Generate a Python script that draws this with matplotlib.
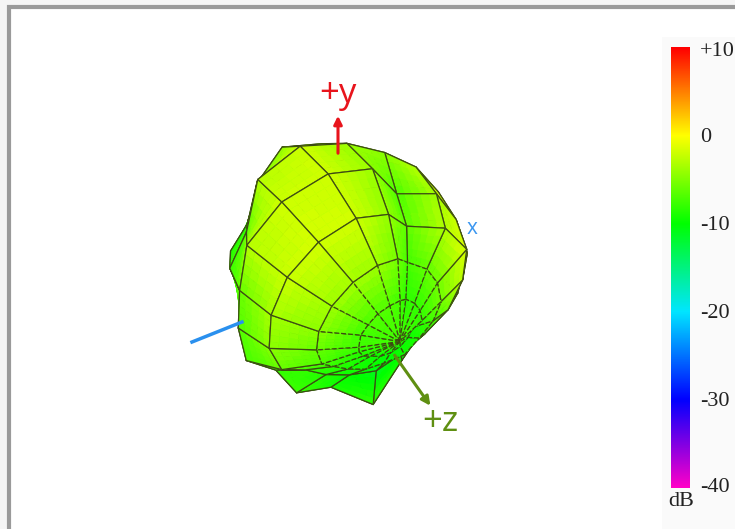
import numpy as np
import matplotlib
matplotlib.use("Agg")
from matplotlib import pyplot as plt
from matplotlib.collections import PolyCollection
from matplotlib.colors import LinearSegmentedColormap, Normalize

# gain in dB, one list per theta ring, phi = 0, 20, ... 340 deg
theta_deg = [0, 20, 40, 60, 80, 100, 120, 140, 160, 180]
gain_t000 = [-7.5] * 18
gain_t020 = [-9, -9, -9, -9, -8, -7.5, -7.5, -7.5, -8, -8, -9, -9.5, -10, -10, -10, -10, -10, -10]
gain_t040 = [-9, -9, -9, -9.5, -7.4, -6, -5.5, -5.5, -6, -7.5, -8.5, -10, -10.5, -10.5, -10.5, -10, -10, -9.5]
gain_t060 = [-7.4, -6.3, -6.8, -9, -6.5, -4.5, -4, -4, -5, -6, -7.5, -10, -10.5, -10.5, -10, -10, -9.5, -8.4]
gain_t080 = [-6, -6.5, -6.5, -8.5, -5, -3.5, -3, -3.5, -6, -6.8, -7, -9, -7.7, -8.4, -4.7, -7.4, -8.1, -6.3]
gain_t100 = [-5, -5.7, -6, -6, -5, -3.5, -4, -7.5, -7.7, -10, -9, -10, -10, -8, -7, -8, -7.5, -6.3]
gain_t120 = [-6.5, -6, -6.5, -7, -6, -5, -6.8, -9, -8.7, -10.5, -10, -9, -9, -9, -9, -8.5, -8, -7]
gain_t140 = [-8, -8, -8, -8, -7.5, -7.5, -8, -9, -9.5, -10.5, -10, -9, -9, -9, -9, -9, -8.5, -8]
gain_t160 = [-9, -9, -9, -9, -9, -8.5, -8.5, -9.5, -10, -10.5, -10, -9.5, -9.5, -9.5, -9.5, -9.5, -9, -9]
gain_t180 = [-9.5] * 18

# colour lift per phi and per theta, gain shown on the faces against the radius
phi_tint = [4.5, 4.5, 3, 1.5, 1, 1.5, 1, 0.5, 0, 0, 0, 1, 0, -1, -3.5, -2, -1, 1.5]
theta_tint = [0, 0.5, 1.5, 1.5, 0, 0, 0, 0, 0, 0]

cbar_labels = ["+10", "0", "-10", "-20", "-30", "-40"]
cbar_label_y = [51, 137, 226, 313, 401, 488]

gains = np.array([gain_t000, gain_t020, gain_t040, gain_t060, gain_t080,
                  gain_t100, gain_t120, gain_t140, gain_t160, gain_t180], dtype=float)
gains = np.hstack([gains, gains[:, :1]])
theta = np.radians(theta_deg)
phi = np.radians(np.arange(0, 361, 20))

cmap = LinearSegmentedColormap.from_list("db", [
    (0.0, "#ff00c8"), (0.2, "#0000ff"), (0.4, "#00e6ff"),
    (0.6, "#00ff00"), (0.8, "#ffff00"), (1.0, "#ff0000")])
norm = Normalize(-40, 10)

# view
az = np.radians(30)
el = np.radians(35)
right = np.array([np.cos(az), 0, np.sin(az)])
up = np.array([np.sin(el) * np.sin(az), np.cos(el), -np.sin(el) * np.cos(az)])
toward = np.cross(right, up)
ox, oy = 338, 280

tt, pp = np.meshgrid(theta, phi, indexing="ij")
rad = 9.3 * (gains + 20.8)
xyz = np.stack([rad * np.sin(tt) * np.cos(pp), rad * np.sin(tt) * np.sin(pp), rad * np.cos(tt)], axis=-1)
sx = ox + xyz @ right
sy = oy - xyz @ up
depth = xyz @ toward

tint = np.array(phi_tint + phi_tint[:1]) * np.sin(tt) ** 2 + np.array(theta_tint)[:, None]
shade = gains + tint

fig = plt.figure(figsize=(7.35, 5.29), dpi=100, facecolor="#f5f5f5")
ax = fig.add_axes([0, 0, 1, 1])
ax.set_xlim(0, 735)
ax.set_ylim(529, 0)
ax.axis("off")

# frame and colorbar panel
ax.add_patch(plt.Rectangle((9.5, 7), 740, 540, fc="white", ec="#9a9a9a", lw=3))
ax.add_patch(plt.Rectangle((662, 37), 80, 500, fc="#fafafa", ec="none"))

# faces back to front, each one shaded from its corner gains
polys, faces, edges, widths, styles, keys = [], [], [], [], [], []
nsub = 5
uu = np.linspace(0, 1, nsub + 1)


def lerp(a, i, j):
    return ((1 - uu)[:, None] * ((1 - uu) * a[i, j] + uu * a[i, j + 1])
            + uu[:, None] * ((1 - uu) * a[i + 1, j] + uu * a[i + 1, j + 1]))


for i in range(gains.shape[0] - 1):
    for j in range(gains.shape[1] - 1):
        key = depth[i:i + 2, j:j + 2].mean()
        gx, gy, gg = lerp(sx, i, j), lerp(sy, i, j), lerp(shade, i, j)
        for a in range(nsub):
            for b in range(nsub):
                polys.append([(gx[a, b], gy[a, b]), (gx[a, b + 1], gy[a, b + 1]),
                              (gx[a + 1, b + 1], gy[a + 1, b + 1]), (gx[a + 1, b], gy[a + 1, b])])
                col = cmap(norm(gg[a:a + 2, b:b + 2].mean()))
                faces.append(col)
                edges.append(col)
                widths.append(0.4)
                styles.append("solid")
                keys.append(key)
        polys.append([(sx[i, j], sy[i, j]), (sx[i, j + 1], sy[i, j + 1]),
                      (sx[i + 1, j + 1], sy[i + 1, j + 1]), (sx[i + 1, j], sy[i + 1, j])])
        faces.append((0, 0, 0, 0))
        edges.append("#3c4a14")
        widths.append(0.9)
        styles.append((0, (4, 1.5)) if i <= 1 else "solid")
        keys.append(key + 1e-6)

order = np.argsort(keys)
ax.add_collection(PolyCollection([polys[k] for k in order],
                                 facecolors=[faces[k] for k in order],
                                 edgecolors=[edges[k] for k in order],
                                 linewidths=[widths[k] for k in order],
                                 linestyles=[styles[k] for k in order], zorder=3))

# axes
ax.plot([192, 242], [342, 322], color="#2a90ee", lw=2.5, zorder=4)
ax.annotate("", xy=(338, 113), xytext=(338, 156), zorder=4,
            arrowprops=dict(arrowstyle="-|>", color="#e8141c", lw=2.2, mutation_scale=12))
ax.annotate("", xy=(432, 408), xytext=(393, 353), zorder=4,
            arrowprops=dict(arrowstyle="-|>", color="#5f8f12", lw=2.2, mutation_scale=13))
ax.text(338, 94, "+y", color="#e8141c", fontsize=25, ha="center", va="center", family="Open Sans")
ax.text(440, 422, "+z", color="#5f8f12", fontsize=25, ha="center", va="center", family="Open Sans")
ax.text(472, 228, "x", color="#3a96f0", fontsize=15, ha="center", va="center", family="Open Sans")

# colorbar
bar = np.linspace(10, -40, 256).reshape(-1, 1)
ax.imshow(bar, cmap=cmap, norm=norm, extent=(671, 689.5, 488, 47), aspect="auto", zorder=2)
ax.set_xlim(0, 735)
ax.set_ylim(529, 0)
for y, lab in zip(cbar_label_y, cbar_labels):
    ax.text(700, y, lab, fontsize=16, family="Liberation Serif",
            color="#222222", ha="left", va="center")
ax.text(681, 502, "dB", fontsize=16, family="Liberation Serif", color="#222222", ha="center", va="center")

fig.savefig("out.png", dpi=100, facecolor=fig.get_facecolor())
